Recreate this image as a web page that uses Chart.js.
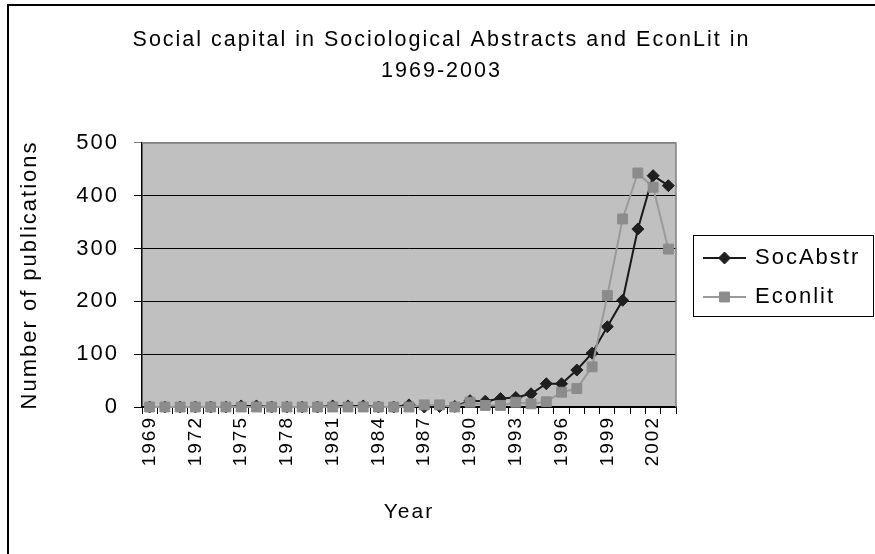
<!DOCTYPE html>
<html>
<head>
<meta charset="utf-8">
<script src="https://cdn.jsdelivr.net/npm/chart.js@4"></script>
<style>
  html, body { margin: 0; padding: 0; background: #fff; }
  canvas { display: block; }
</style>
</head>
<body>
<canvas id="chart" width="875" height="554"></canvas>
<script>
// Publication counts per year, 1969-2003
const years = ['1969','1970','1971','1972','1973','1974','1975','1976','1977','1978',
               '1979','1980','1981','1982','1983','1984','1985','1986','1987','1988',
               '1989','1990','1991','1992','1993','1994','1995','1996','1997','1998',
               '1999','2000','2001','2002','2003'];
const socAbstr = [0,0,0,0,0,0,2,2,0,0,
                  0,0,2,2,2,0,0,4,0,1,
                  1,12,11,16,18,25,44,44,70,102,
                  152,202,337,438,419];
const econlit = [0,0,0,0,0,0,0,0,0,0,
                 0,0,0,0,0,0,0,0,4,4,
                 0,9,3,3,9,6,10,28,35,76,
                 211,356,443,416,299];
const yTickValues = [0, 100, 200, 300, 400, 500];
const chartTitle = ['Social capital in Sociological Abstracts and EconLit in', '1969-2003'];
const yTitle = 'Number of publications';
const xTitle = 'Year';

const FONT = "'Liberation Sans', Arial, sans-serif";

// Wider tracking for all canvas text
const tracking = {
  id: 'tracking',
  beforeUpdate(chart) { chart.ctx.letterSpacing = '2px'; },
  beforeDraw(chart) { chart.ctx.letterSpacing = '2px'; }
};

// Grey plotting area, outer frame, and grey top/right edges of the plot
const frame = {
  id: 'frame',
  beforeDraw(chart) {
    const { ctx, chartArea: a } = chart;
    ctx.save();
    ctx.fillStyle = '#C0C0C0';
    ctx.fillRect(a.left, a.top, a.right - a.left, a.bottom - a.top);
    ctx.strokeStyle = '#000';
    ctx.lineWidth = 2;
    ctx.strokeRect(8, 5, 1000, 1000);
    ctx.restore();
  },
  beforeDatasetsDraw(chart) {
    const { ctx, chartArea: a } = chart;
    ctx.save();
    ctx.strokeStyle = '#808080';
    ctx.lineWidth = 1.5;
    ctx.beginPath();
    ctx.moveTo(a.left, a.top);
    ctx.lineTo(a.right, a.top);
    ctx.lineTo(a.right, a.bottom);
    ctx.stroke();
    ctx.restore();
  }
};

// Boxed legend on the right: line with marker, then the series name
const boxLegend = {
  id: 'boxLegend',
  afterDraw(chart) {
    const ctx = chart.ctx;
    const box = { x: 693.5, y: 235.5, w: 180, h: 81 };
    ctx.save();
    ctx.letterSpacing = '2px';
    ctx.strokeStyle = '#000';
    ctx.lineWidth = 1;
    ctx.strokeRect(box.x, box.y, box.w, box.h);
    const rows = [258, 297];
    chart.data.datasets.forEach((ds, i) => {
      const y = rows[i];
      ctx.strokeStyle = ds.borderColor;
      ctx.lineWidth = ds.borderWidth;
      ctx.beginPath();
      ctx.moveTo(703, y);
      ctx.lineTo(746, y);
      ctx.stroke();
      ctx.fillStyle = ds.pointBackgroundColor;
      ctx.strokeStyle = ds.pointBorderColor;
      ctx.lineWidth = 1;
      Chart.helpers.drawPoint(ctx, {
        pointStyle: ds.pointStyle,
        radius: ds.pointRadius,
        borderWidth: 1,
        rotation: 0
      }, 724.5, y);
      ctx.fillStyle = '#000';
      ctx.font = '22px ' + FONT;
      ctx.textAlign = 'left';
      ctx.textBaseline = 'middle';
      ctx.fillText(ds.label, 755, y);
    });
    ctx.restore();
  }
};

new Chart(document.getElementById('chart'), {
  type: 'line',
  data: {
    labels: years,
    datasets: [
      {
        label: 'SocAbstr',
        data: socAbstr,
        order: 1,
        clip: false,
        borderColor: '#1a1a1a',
        borderWidth: 2,
        pointStyle: 'rectRot',
        pointRadius: 6,
        pointBackgroundColor: '#1f1f1f',
        pointBorderColor: '#1f1f1f',
        pointBorderWidth: 1,
        tension: 0
      },
      {
        label: 'Econlit',
        data: econlit,
        order: 0,
        clip: false,
        borderColor: '#9a9a9a',
        borderWidth: 2,
        pointStyle: 'rect',
        pointRadius: 7,
        pointBackgroundColor: '#8c8c8c',
        pointBorderColor: '#8c8c8c',
        pointBorderWidth: 1,
        tension: 0
      }
    ]
  },
  options: {
    responsive: false,
    animation: false,
    events: [],
    layout: { padding: { left: 8, right: 0, top: 0, bottom: 0 } },
    plugins: {
      legend: { display: false },
      tooltip: { enabled: false },
      title: {
        display: true,
        text: chartTitle,
        color: '#000',
        font: { family: FONT, size: 21.5, weight: 'normal', lineHeight: 1.44 },
        padding: { top: 25, bottom: 56 }
      }
    },
    scales: {
      x: {
        type: 'category',
        offset: true,
        border: { color: '#000', width: 1.5 },
        grid: { drawOnChartArea: false, drawTicks: true, tickLength: 7, color: '#000', offset: true },
        ticks: {
          autoSkip: false,
          minRotation: 90,
          maxRotation: 90,
          padding: 2,
          color: '#000',
          font: { family: FONT, size: 19 },
          callback: (v, i) => (i % 3 === 0 ? years[i] : '')
        },
        title: {
          display: true,
          text: xTitle,
          color: '#000',
          font: { family: FONT, size: 21 },
          padding: { top: 0, bottom: 29 }
        },
        afterFit(scale) { scale.height = 147; }
      },
      y: {
        min: 0,
        max: 500,
        border: { color: '#000', width: 1.5 },
        grid: {
          color: (c) => (c.tick && c.tick.value === 500 ? '#808080' : '#000'),
          lineWidth: 1,
          tickLength: 8,
          drawTicks: true
        },
        afterBuildTicks(scale) { scale.ticks = yTickValues.map(v => ({ value: v })); },
        ticks: {
          padding: 15,
          color: '#000',
          font: { family: FONT, size: 22 }
        },
        title: {
          display: true,
          text: yTitle,
          color: '#000',
          font: { family: FONT, size: 22 },
          padding: { top: 9, bottom: 0 }
        },
        afterFit(scale) { scale.width = 134; }
      },
      // Blank right-hand strip that holds the legend area
      side: {
        type: 'linear',
        position: 'right',
        display: true,
        grid: { display: false },
        border: { display: false },
        ticks: { display: false },
        afterFit(scale) { scale.width = 199; }
      }
    }
  },
  plugins: [tracking, frame, boxLegend]
});
</script>
</body>
</html>
